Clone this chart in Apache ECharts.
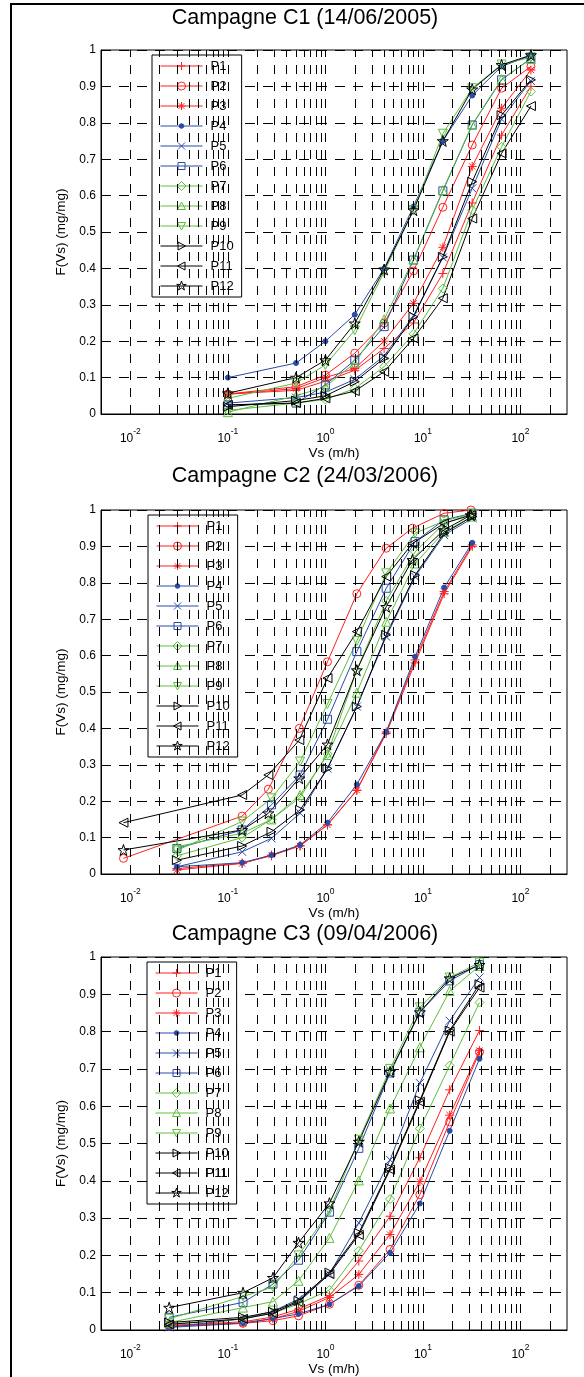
<!DOCTYPE html>
<html>
<head>
<meta charset="utf-8" />
<title>Campagnes</title>
<style type="text/css">
  body, html { margin: 0; padding: 0; width: 584px; height: 1377px; overflow: hidden; background: #fff; }
  #frame { position: absolute; left: 10px; top: 3px; width: 700px; height: 1500px; border-left: 2px solid #000; border-top: 2px solid #000; }
  #main { position: absolute; left: 0; top: 0; width: 584px; height: 1377px; }
</style>
</head>
<body>
<div id="frame"></div>
<div id="main"></div>
<script src="https://cdn.jsdelivr.net/npm/echarts@6.0.0/dist/echarts.min.js"></script>
<script>
// ---- data ----
var NAMES = ['P1', 'P2', 'P3', 'P4', 'P5', 'P6', 'P7', 'P8', 'P9', 'P10', 'P11', 'P12'];
var TITLES = ['Campagne C1 (14/06/2005)', 'Campagne C2 (24/03/2006)', 'Campagne C3 (09/04/2006)'];

// Campagne C1
var C1_VS = [[0.1, 0.5, 1, 2, 4, 8, 16, 32, 64, 128]];
var C1_XSET = [0, 0, 0, 0, 0, 0, 0, 0, 0, 0, 0, 0];
var C1_F = [
  [0.055, 0.065, 0.09, 0.12, 0.18, 0.25, 0.386, 0.58, 0.766, 0.9],
  [0.055, 0.075, 0.107, 0.167, 0.25, 0.393, 0.568, 0.739, 0.895, 0.955],
  [0.054, 0.07, 0.1, 0.125, 0.2, 0.304, 0.458, 0.68, 0.84, 0.945],
  [0.1, 0.14, 0.2, 0.273, 0.4, 0.57, 0.75, 0.875, 0.955, 0.985],
  [0.03, 0.045, 0.06, 0.095, 0.16, 0.27, 0.43, 0.62, 0.81, 0.915],
  [0.025, 0.03, 0.08, 0.148, 0.24, 0.423, 0.613, 0.794, 0.918, 0.977],
  [0.01, 0.03, 0.04, 0.07, 0.13, 0.22, 0.345, 0.56, 0.734, 0.886],
  [0.005, 0.05, 0.075, 0.14, 0.26, 0.425, 0.615, 0.795, 0.92, 0.975],
  [0.043, 0.085, 0.135, 0.23, 0.39, 0.56, 0.77, 0.895, 0.96, 0.98],
  [0.02, 0.037, 0.05, 0.089, 0.153, 0.267, 0.432, 0.638, 0.821, 0.918],
  [0.025, 0.03, 0.043, 0.063, 0.116, 0.208, 0.318, 0.537, 0.716, 0.846],
  [0.057, 0.1, 0.148, 0.249, 0.397, 0.56, 0.75, 0.892, 0.959, 0.986]
];

// Campagne C2
var C2_VS = [
  [0.03, 0.14, 0.28, 0.55, 1.05, 2.1, 4.2, 8.3, 16.5, 32],
  [0.0085, 0.14, 0.26, 0.54, 1.05, 2.1, 4.2, 7.8, 16.4, 31]
];
var C2_XSET = [0, 1, 0, 0, 0, 0, 0, 0, 0, 0, 1, 1];
var C2_F = [
  [0.015, 0.03, 0.05, 0.078, 0.135, 0.23, 0.386, 0.58, 0.77, 0.9],
  [0.043, 0.159, 0.233, 0.4, 0.583, 0.77, 0.895, 0.95, 0.991, 1.0],
  [0.011, 0.029, 0.052, 0.077, 0.135, 0.23, 0.39, 0.588, 0.776, 0.904],
  [0.02, 0.031, 0.052, 0.08, 0.141, 0.246, 0.39, 0.597, 0.787, 0.91],
  [0.02, 0.061, 0.098, 0.167, 0.29, 0.46, 0.652, 0.817, 0.931, 0.977],
  [0.07, 0.121, 0.19, 0.272, 0.425, 0.611, 0.785, 0.913, 0.973, 0.991],
  [0.05, 0.1, 0.15, 0.21, 0.33, 0.56, 0.75, 0.885, 0.963, 0.99],
  [0.075, 0.112, 0.15, 0.217, 0.327, 0.498, 0.693, 0.853, 0.94, 0.982],
  [0.065, 0.144, 0.208, 0.309, 0.467, 0.64, 0.826, 0.936, 0.97, 0.99],
  [0.038, 0.077, 0.116, 0.176, 0.29, 0.46, 0.657, 0.821, 0.936, 0.982],
  [0.141, 0.217, 0.272, 0.368, 0.538, 0.666, 0.817, 0.908, 0.963, 0.986],
  [0.066, 0.121, 0.167, 0.263, 0.356, 0.56, 0.734, 0.863, 0.945, 0.986]
];

// Campagne C3
var C3_VS = [[0.025, 0.143, 0.29, 0.53, 1.1, 2.2, 4.6, 9.3, 18.8, 38]];
var C3_XSET = [0, 0, 0, 0, 0, 0, 0, 0, 0, 0, 0, 0];
var C3_F = [
  [0.012, 0.022, 0.035, 0.056, 0.092, 0.185, 0.305, 0.462, 0.644, 0.803],
  [0.01, 0.018, 0.025, 0.038, 0.069, 0.12, 0.216, 0.363, 0.558, 0.745],
  [0.012, 0.019, 0.03, 0.05, 0.087, 0.149, 0.256, 0.398, 0.576, 0.749],
  [0.007, 0.018, 0.031, 0.043, 0.069, 0.118, 0.207, 0.339, 0.534, 0.727],
  [0.007, 0.03, 0.05, 0.083, 0.15, 0.287, 0.456, 0.662, 0.829, 0.945],
  [0.034, 0.074, 0.123, 0.187, 0.316, 0.487, 0.689, 0.852, 0.936, 0.98],
  [0.016, 0.03, 0.045, 0.07, 0.107, 0.212, 0.351, 0.54, 0.709, 0.878],
  [0.02, 0.06, 0.076, 0.132, 0.247, 0.401, 0.594, 0.758, 0.909, 0.976],
  [0.03, 0.09, 0.115, 0.2, 0.32, 0.51, 0.7, 0.865, 0.945, 0.985],
  [0.02, 0.034, 0.049, 0.078, 0.154, 0.26, 0.434, 0.616, 0.803, 0.927],
  [0.015, 0.03, 0.045, 0.075, 0.15, 0.255, 0.43, 0.612, 0.8, 0.918],
  [0.06, 0.1, 0.14, 0.234, 0.34, 0.505, 0.692, 0.852, 0.943, 0.979]
];

var CAMPAGNES = [
  { vs: C1_VS, xset: C1_XSET, f: C1_F },
  { vs: C2_VS, xset: C2_XSET, f: C2_F },
  { vs: C3_VS, xset: C3_XSET, f: C3_F }
];

// ---- styles ----
var X_MIN = 0.005, X_MAX = 300;
var RED = '#ff2020', BLUE = '#2b4ba8', GREEN = '#5cbf3c', BLACK = '#000';
var COLORS = [RED, RED, RED, BLUE, BLUE, BLUE, GREEN, GREEN, GREEN, BLACK, BLACK, BLACK];
var STAR = 'path://M5,0L6.12,3.45L9.76,3.45L6.82,5.59L7.94,9.05L5,6.91L2.06,9.05L3.18,5.59L0.24,3.45L3.88,3.45Z';
var MARKERS = [
  'path://M5,0L5,10M0,5L10,5',                                   // +
  'circle',                                                       // o
  'path://M5,0L5,10M0,5L10,5M1.5,1.5L8.5,8.5M8.5,1.5L1.5,8.5',   // *
  'circle',                                                       // .
  'path://M0,0L10,10M10,0L0,10',                                  // x
  'path://M0,0L10,0L10,10L0,10Z',                                 // square
  'path://M5,0L10,5L5,10L0,5Z',                                   // diamond
  'path://M5,0L10,10L0,10Z',                                      // ^
  'path://M0,0L10,0L5,10Z',                                       // v
  'path://M0,0L10,5L0,10Z',                                       // >
  'path://M10,0L0,5L10,10Z',                                      // <
  STAR                                                            // pentagram
];
var SIZES = [9, 8, 9, 5, 8, 8, 9, 9, 9, 9, 9, 11];
var HOLLOW = 'rgba(0,0,0,0)';

// legend samples: line + marker drawn in a 42 x 13 box (corners anchor the scale)
var LEG_BOX = 'M0,0M42,13M0,6.5L42,6.5';
var LEG_MARKS = [
  'M21,2.5L21,10.5M17,6.5L25,6.5',
  'M25,6.5A4,4,0,1,1,17,6.5A4,4,0,1,1,25,6.5Z',
  'M21,2.5L21,10.5M17,6.5L25,6.5M18.2,3.7L23.8,9.3M23.8,3.7L18.2,9.3',
  'M23.3,6.5A2.3,2.3,0,1,1,18.7,6.5A2.3,2.3,0,1,1,23.3,6.5Z',
  'M17.5,3L24.5,10M24.5,3L17.5,10',
  'M17.5,3L24.5,3L24.5,10L17.5,10Z',
  'M21,2L25.5,6.5L21,11L16.5,6.5Z',
  'M21,2.5L25,10L17,10Z',
  'M17,3L25,3L21,10.5Z',
  'M17.5,2.5L25,6.5L17.5,10.5Z',
  'M24.5,2.5L17,6.5L24.5,10.5Z',
  'M21,1.5L22.12,4.95L25.76,4.95L22.82,7.09L23.94,10.55L21,8.41L18.06,10.55L19.18,7.09L16.24,4.95L19.88,4.95Z'
];

var PLOTS = [
  { top: 50, height: 364, titleTop: 7, legendLeft: 152, legendTop: 55 },
  { top: 510, height: 364, titleTop: 465, legendLeft: 148, legendTop: 515 },
  { top: 957, height: 374, titleTop: 923, legendLeft: 147, legendTop: 962 }
];
var FONT = 'Liberation Sans';

function gridLines() {
  var out = [];
  for (var k = -3; k <= 2; k++) {
    for (var m = 1; m <= 9; m++) {
      var v = m * Math.pow(10, k);
      if (v > X_MIN * 1.0001 && v < X_MAX * 0.9999) out.push({ xAxis: v });
    }
  }
  return out;
}

// each plot gets its own series names ("P1#0", "P1#1", ...) so each legend
// is tied to its own plot; the suffix is stripped for display.
function seriesName(si, gi) { return NAMES[si] + '#' + gi; }

function legendData(gi) {
  return NAMES.map(function (n, i) {
    return {
      name: seriesName(i, gi),
      icon: 'path://' + LEG_BOX + LEG_MARKS[i],
      itemStyle: { color: i === 3 ? COLORS[i] : HOLLOW, borderColor: COLORS[i], borderWidth: 1 }
    };
  });
}

var option = {
  animation: false,
  backgroundColor: 'transparent',
  title: [], grid: [], xAxis: [], yAxis: [], legend: [], series: []
};

PLOTS.forEach(function (p, gi) {
  option.title.push({
    text: TITLES[gi], left: 305, top: p.titleTop, textAlign: 'center', padding: 0,
    textStyle: { fontFamily: FONT, fontSize: 21.5, fontWeight: 'normal', color: '#000' }
  });
  option.grid.push({
    left: 101, top: p.top, width: 466, height: p.height,
    show: true, borderColor: '#000', borderWidth: 1, backgroundColor: '#fff'
  });
  option.xAxis.push({
    type: 'log', logBase: 10, gridIndex: gi, min: X_MIN, max: X_MAX,
    name: 'Vs (m/h)', nameLocation: 'middle', nameGap: 32,
    nameTextStyle: { fontFamily: FONT, fontSize: 13.5, color: '#000' },
    axisLine: { lineStyle: { color: '#000', width: 1 } },
    axisTick: { show: false },
    splitLine: { show: false },
    axisLabel: {
      showMinLabel: false, showMaxLabel: false, margin: 13,
      formatter: function (v) {
        var e = Math.log10(v);
        if (Math.abs(e - Math.round(e)) > 1e-6) return '';
        return '{b|10}{s|' + Math.round(e) + '}';
      },
      rich: {
        b: { fontFamily: FONT, fontSize: 12, color: '#000' },
        s: { fontFamily: FONT, fontSize: 8.5, color: '#000', padding: [0, 0, 14, 0] }
      }
    }
  });
  option.yAxis.push({
    type: 'value', gridIndex: gi, min: 0, max: 1, interval: 0.1,
    name: 'F(Vs) (mg/mg)', nameLocation: 'middle', nameGap: 28,
    nameTextStyle: { fontFamily: FONT, fontSize: 13.5, color: '#000' },
    axisLine: { show: true, lineStyle: { color: '#000', width: 1 } },
    axisTick: { show: true, inside: true, length: 4, lineStyle: { color: '#000' } },
    axisLabel: { margin: 5, fontFamily: FONT, fontSize: 12, color: '#000' },
    splitLine: { show: true, lineStyle: { color: '#000', width: 1, type: [10, 8] } }
  });
  option.legend.push({
    data: legendData(gi), orient: 'vertical', left: p.legendLeft, top: p.legendTop,
    itemWidth: 42, itemHeight: 13, itemGap: 6, padding: [4, 8, 4, 8],
    borderColor: '#000', borderWidth: 1, backgroundColor: '#fff',
    selectedMode: false,
    formatter: function (name) { return name.split('#')[0]; },
    textStyle: { fontFamily: FONT, fontSize: 13, color: '#000', padding: [1, 0, 0, 3] }
  });
  // dashed vertical grid (decades and 2..9 sub-decades)
  option.series.push({
    type: 'line', name: 'grid' + gi, xAxisIndex: gi, yAxisIndex: gi, data: [], silent: true,
    markLine: {
      silent: true, symbol: 'none', animation: false, label: { show: false },
      lineStyle: { color: '#000', width: 1, type: [9, 8] },
      emphasis: { disabled: true },
      data: gridLines()
    }
  });
  var c = CAMPAGNES[gi];
  NAMES.forEach(function (name, si) {
    var xs = c.vs[c.xset[si]];
    option.series.push({
      type: 'line', name: seriesName(si, gi), xAxisIndex: gi, yAxisIndex: gi,
      data: c.f[si].map(function (y, i) { return [xs[i], y]; }),
      symbol: MARKERS[si], symbolSize: SIZES[si], showAllSymbol: true,
      lineStyle: { color: COLORS[si], width: 1 },
      itemStyle: { color: si === 3 ? COLORS[si] : HOLLOW, borderColor: COLORS[si], borderWidth: 1 },
      emphasis: { disabled: true },
      z: 3
    });
  });
});

var chart = echarts.init(document.getElementById('main'));
chart.setOption(option);
</script>
</body>
</html>
